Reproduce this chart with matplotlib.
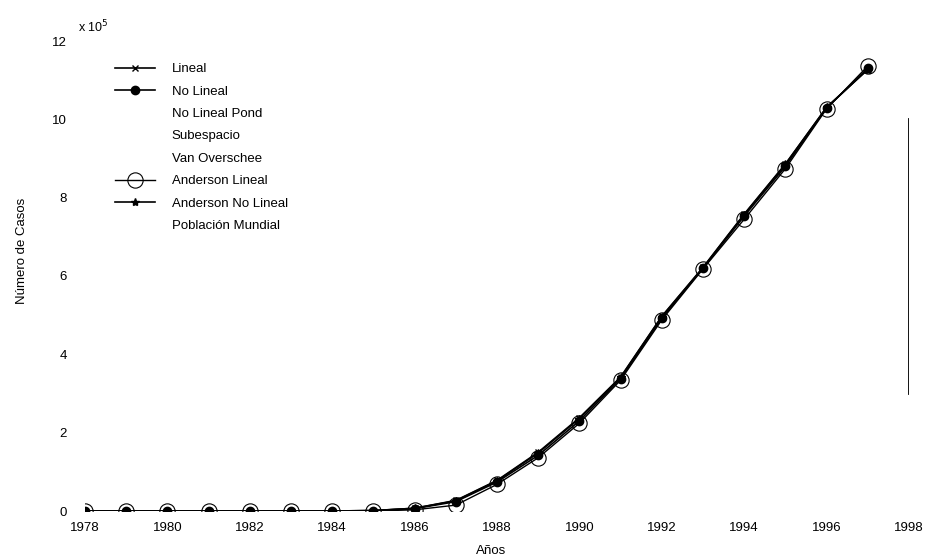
import matplotlib.pyplot as plt

plt.rcParams['font.family'] = ['Liberation Sans', 'DejaVu Sans']

# datos en unidades de 10^5 casos
years = list(range(1978, 1998))
lineal = [0, 0, 0, 0, 0, 0, 0, 0.01, 0.07, 0.27, 0.78, 1.50, 2.38, 3.42, 4.97, 6.22, 7.58, 8.86, 10.30, 11.28]
no_lineal = [0, 0, 0, 0, 0, 0, 0, 0.01, 0.06, 0.24, 0.74, 1.42, 2.30, 3.38, 4.92, 6.20, 7.53, 8.80, 10.29, 11.30]
no_lineal_pond = [0, 0, 0, 0, 0, 0, 0, 0.01, 0.06, 0.25, 0.75, 1.45, 2.33, 3.40, 4.94, 6.21, 7.55, 8.83, 10.30, 11.30]
subespacio = [0, 0, 0, 0, 0, 0, 0, 0.01, 0.06, 0.25, 0.76, 1.46, 2.34, 3.40, 4.95, 6.21, 7.55, 8.84, 10.30, 11.30]
van_overschee = [0, 0, 0, 0, 0, 0, 0, 0.01, 0.06, 0.25, 0.75, 1.45, 2.33, 3.40, 4.94, 6.20, 7.54, 8.83, 10.29, 11.29]
anderson_lineal = [0, 0, 0, 0, 0, 0, 0, 0.0, 0.03, 0.15, 0.68, 1.36, 2.24, 3.34, 4.88, 6.18, 7.45, 8.74, 10.27, 11.36]
anderson_no_lineal = [0, 0, 0, 0, 0, 0, 0, 0.01, 0.07, 0.26, 0.77, 1.48, 2.36, 3.41, 4.96, 6.21, 7.57, 8.85, 10.31, 11.27]
poblacion_mundial = [0, 0, 0, 0, 0, 0, 0, 0.01, 0.06, 0.25, 0.75, 1.45, 2.33, 3.40, 4.94, 6.20, 7.55, 8.83, 10.30, 11.30]

xticks = list(range(1978, 1999, 2))
yticks = list(range(0, 13, 2))

fig = plt.figure(figsize=(9.35, 5.57), dpi=100)
ax = fig.add_axes([85/935, 1-511/557, 824/935, 470/557])

# series que no se ven en la figura original (blancas, debajo)
ax.plot(years, no_lineal_pond, color='white', lw=1, zorder=1, label='No Lineal Pond')
ax.plot(years, subespacio, color='white', lw=1, zorder=1, label='Subespacio')
ax.plot(years, van_overschee, color='white', lw=1, zorder=1, label='Van Overschee')
ax.plot(years, poblacion_mundial, color='white', lw=1, zorder=1, label='Población Mundial')

ax.plot(years, lineal, color='k', lw=1.2, marker='x', ms=5, zorder=3, label='Lineal')
ax.plot(years, no_lineal, color='k', lw=1.2, marker='o', ms=6, zorder=3, label='No Lineal')
ax.plot(years, anderson_lineal, color='k', lw=1.0, marker='o', ms=11, mfc='none',
        mew=0.8, zorder=2, label='Anderson Lineal')
ax.plot(years, anderson_no_lineal, color='k', lw=1.2, marker='*', ms=6, zorder=3, label='Anderson No Lineal')

ax.set_xlim(1978, 1998)
ax.set_ylim(0, 12)
ax.set_xticks(xticks)
ax.set_yticks(yticks)
ax.tick_params(length=0, labelsize=9.5)
ax.tick_params(axis='x', pad=8)
ax.tick_params(axis='y', pad=13)
for s in ax.spines.values():
    s.set_visible(False)
# trozo del eje derecho que sale en el escaneo
ax.axvline(1998, ymin=3/12, ymax=10/12, color='k', lw=1.3)

fig.text(78/935, 1-27/557, r'x 10$^5$', fontsize=9, va='center', ha='left')
fig.text(22/935, 1-251/557, 'Número de Casos', rotation=90, fontsize=9.5,
         ha='center', va='center')
fig.text(491/935, 1-551/557, 'Años', fontsize=9.5, ha='center', va='center')

h, l = ax.get_legend_handles_labels()
order = ['Lineal', 'No Lineal', 'No Lineal Pond', 'Subespacio', 'Van Overschee',
         'Anderson Lineal', 'Anderson No Lineal', 'Población Mundial']
hd = dict(zip(l, h))
ax.legend([hd[k] for k in order], order, loc='upper left',
          bbox_to_anchor=(115/935, 1-63/557), bbox_transform=fig.transFigure,
          frameon=False, fontsize=9.5, borderpad=0, borderaxespad=0,
          handlelength=3.0, handletextpad=1.3, labelspacing=0.77)

fig.savefig('out.png', dpi=100)
